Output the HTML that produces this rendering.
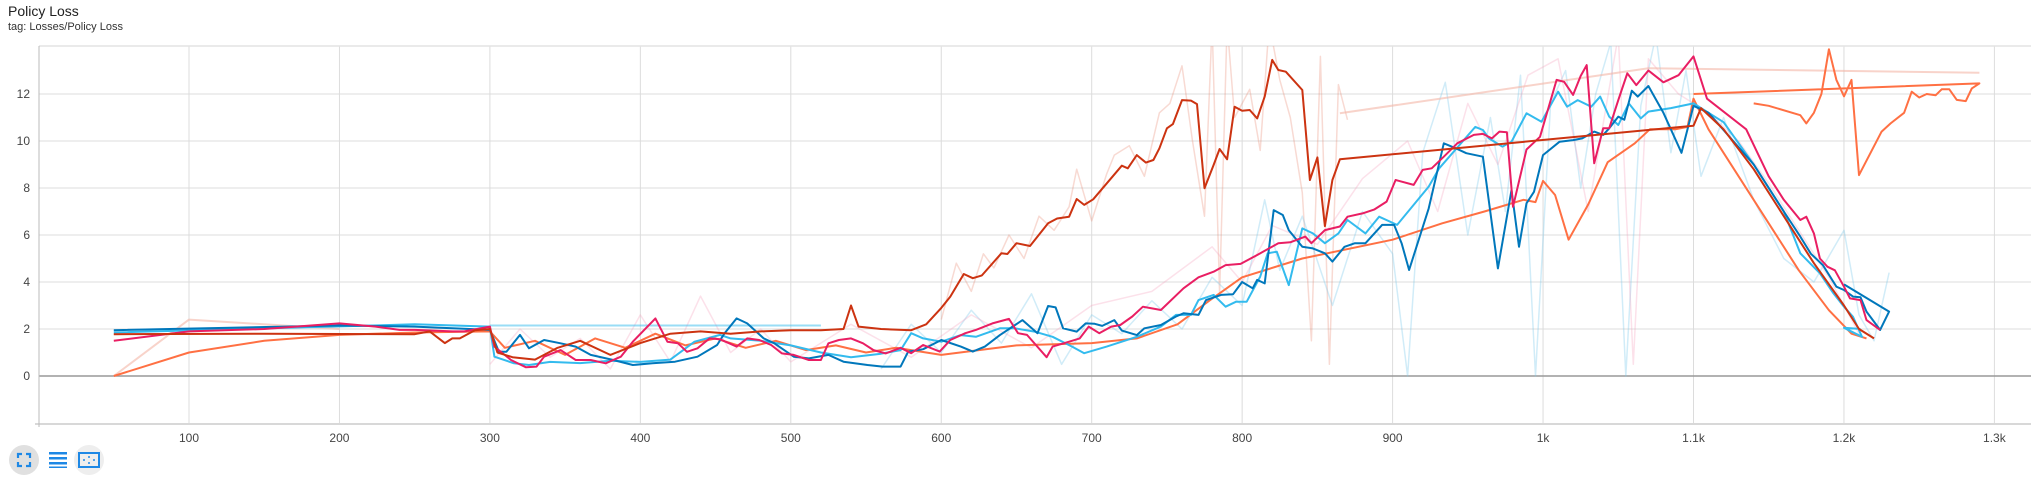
<!DOCTYPE html>
<html><head><meta charset="utf-8">
<style>
html,body{margin:0;padding:0;background:#fff;}
body{width:2031px;height:486px;overflow:hidden;position:relative;font-family:"Liberation Sans",sans-serif;}
#title{position:absolute;left:8px;top:3px;font-size:14px;color:#212121;}
#tag{position:absolute;left:8px;top:21px;font-size:11px;color:#333;}
svg{position:absolute;left:0;top:0;}
</style></head><body>
<div id="title">Policy Loss</div>
<div id="tag">tag: Losses/Policy Loss</div>
<svg id="chart" width="2031" height="486"></svg>
<script>
const xTicks=[100,200,300,400,500,600,700,800,900,1000,1100,1200,1300];
const xTickLabels=["100","200","300","400","500","600","700","800","900","1k","1.1k","1.2k","1.3k"];
const yTicks=[0,2,4,6,8,10,12];
const yTickLabels=["0","2","4","6","8","10","12"];
const seriesNames=["dark-red","orange","orange-late","pink","dark-blue","light-blue","salmon-faint","flat-connectors"];
const darkRedSteps=[50,150,250,260,270,275,280,290,300,305,315,330,345,360,380,400,420,440,460,480,500,520,535,540,545,560,580,590,600,606,615,621,627,640,644,650,659,671,677,685,690,695,701,720,724,730,736,741,745,750,754,760,766,770,775,781,785,790,795,800,805,810,815,820,824,829,840,845,850,855,860,865,1100,1105,1120,1140,1160,1180,1200,1210,1220];
const darkRedVals=[1.78,1.8,1.78,1.9,1.4,1.6,1.6,1.95,2.0,1.0,0.8,0.7,1.2,1.5,0.9,1.4,1.8,1.9,1.8,1.9,1.95,1.95,2.0,3.0,2.1,2.0,1.95,2.2,2.9,3.38,4.34,4.16,4.28,5.22,5.19,5.65,5.53,6.5,6.7,6.78,7.53,7.28,7.52,8.95,8.84,9.4,9.08,9.19,9.69,10.54,10.72,11.74,11.72,11.57,7.99,8.98,9.66,9.22,11.46,11.29,11.32,10.96,11.89,13.45,13.02,12.95,12.17,8.34,9.3,6.38,8.34,9.22,10.65,11.4,10.5,8.8,6.8,4.8,3.0,2.0,1.6];
const orangeSteps=[50,100,150,200,250,300,310,330,350,370,390,410,430,450,470,490,510,530,550,570,600,650,700,730,757,778,800,840,900,933,961,987,995,1000,1008,1017,1030,1043,1061,1071,1088,1096,1100,1110,1130,1150,1170,1190,1205,1215];
const orangeVals=[0,1.0,1.5,1.75,1.85,1.9,1.2,1.5,0.9,1.6,1.2,1.8,1.3,1.6,1.2,1.5,1.1,1.3,1.0,1.2,0.9,1.3,1.4,1.6,2.2,3.2,4.2,5.0,5.8,6.5,7.0,7.5,7.4,8.3,7.7,5.8,7.3,9.1,9.9,10.5,10.5,10.6,11.8,10.5,8.5,6.5,4.5,2.8,1.8,1.6];
const orangeLateSteps=[1100,1290,1285,1281,1275,1270,1265,1261,1255,1250,1245,1240,1231,1225,1210,1205,1200,1195,1190,1185,1180,1175,1171,1150,1140];
const orangeLateVals=[12.0,12.45,12.24,11.7,11.75,12.2,12.2,11.95,12.0,11.85,12.1,11.2,10.75,10.4,8.55,12.6,11.9,12.6,13.9,12.0,11.2,10.75,11.1,11.5,11.6];
const pinkSteps=[50,100,150,200,212,224,240,250,275,283,300,303,314,324,331,336,347,357,367,377,387,395,410,418,425,431,438,446,453,464,471,479,487,494,502,512,520,525,532,540,548,555,563,573,580,588,599,606,616,623,634,645,651,657,670,674,685,692,698,705,713,719,727,734,746,761,771,781,789,799,810,824,832,842,846,855,865,870,880,888,896,902,914,920,926,934,943,954,960,966,971,976,980,989,998,1009,1014,1020,1025,1029,1034,1040,1044,1050,1056,1062,1070,1080,1090,1100,1109,1135,1150,1160,1171,1175,1180,1184,1189,1194,1200,1204,1211,1215,1224];
const pinkVals=[1.5,1.9,2.0,2.24,2.17,2.1,1.96,1.96,1.9,1.9,2.1,1.25,0.68,0.37,0.4,0.82,1.1,0.68,0.68,0.54,0.82,1.46,2.45,1.46,1.39,1.03,1.18,1.6,1.56,1.25,1.6,1.53,1.32,0.96,0.9,0.68,0.68,1.39,1.53,1.6,1.39,1.1,0.96,1.2,0.97,1.32,1.04,1.53,1.82,1.96,2.24,2.43,1.82,1.75,0.8,1.25,1.46,1.6,2.1,1.82,2.1,2.17,2.53,2.95,2.81,3.73,4.2,4.44,4.72,4.77,5.15,5.65,5.69,5.93,5.65,6.21,6.36,6.78,6.92,7.09,7.42,8.34,8.13,8.77,8.84,9.33,9.9,10.26,10.3,10.11,10.4,10.37,7.2,9.64,10.18,12.6,12.52,11.96,12.77,13.23,9.05,10.54,10.54,11.74,12.88,12.38,13.0,12.5,12.8,13.6,11.8,10.5,8.5,7.5,6.64,6.78,6.07,5.0,4.65,4.5,3.8,3.3,3.23,2.38,1.96];
const darkBlueSteps=[50,200,250,300,306,311,320,326,336,347,357,367,382,395,408,423,438,451,456,464,471,482,489,502,512,525,535,551,561,573,578,588,600,613,621,629,639,654,664,671,676,681,690,696,702,707,715,720,730,735,746,756,761,771,776,786,794,800,807,810,815,821,827,831,840,847,855,860,868,875,882,893,901,906,911,924,934,942,949,960,970,979,984,989,994,1000,1011,1020,1026,1034,1040,1044,1050,1054,1059,1063,1070,1080,1092,1100,1110,1140,1160,1171,1178,1186,1195,1200,1206,1211,1215,1224,1230,1200];
const darkBlueVals=[1.95,2.15,2.1,1.96,1.03,1.03,1.75,1.18,1.53,1.39,1.25,0.9,0.68,0.47,0.54,0.61,0.82,1.32,1.82,2.45,2.24,1.6,1.39,0.82,0.75,0.9,0.61,0.47,0.4,0.4,1.04,1.14,1.53,1.25,1.04,1.25,1.74,2.38,1.82,2.98,2.92,2.03,1.89,2.24,2.22,2.13,2.38,1.93,1.74,2.03,2.17,2.53,2.67,2.6,3.23,3.45,3.48,4.0,3.73,4.09,3.94,7.06,6.85,6.2,5.5,5.43,5.22,4.87,5.5,5.65,5.65,6.43,6.43,5.65,4.51,7.13,9.9,9.69,9.48,9.33,4.58,7.91,5.5,7.35,7.84,9.4,9.97,10.04,10.11,10.4,10.26,10.54,11.04,10.9,12.14,11.89,12.34,11.2,9.5,11.5,11.2,9.0,7.0,5.93,5.2,4.72,3.8,3.66,3.38,3.35,2.74,1.96,2.74,3.9];
const lightBlueSteps=[50,250,300,303,316,326,340,360,380,400,420,436,453,460,480,500,520,540,560,573,580,588,600,613,623,639,649,662,674,687,695,710,720,730,746,756,766,771,781,789,796,803,812,817,823,831,840,847,855,864,870,882,891,903,924,931,955,960,964,973,979,989,999,1010,1016,1023,1032,1038,1044,1050,1057,1065,1070,1085,1100,1120,1140,1160,1171,1184,1193,1200,1206,1212,1200,1211];
const lightBlueVals=[1.85,2.2,2.1,0.82,0.54,0.47,0.6,0.55,0.65,0.6,0.7,1.46,1.75,1.6,1.5,1.3,1.0,0.8,0.95,1.1,1.82,1.6,1.46,1.74,1.67,2.03,2.03,1.89,1.67,1.25,0.97,1.25,1.46,1.67,2.1,2.6,2.6,3.23,3.45,2.95,3.16,3.16,4.23,5.22,5.29,3.87,6.28,6.07,5.65,6.07,6.64,6.07,6.78,6.43,8.06,8.84,10.6,10.47,10.11,9.76,9.97,11.18,10.82,12.1,11.46,11.74,11.46,11.89,11.04,10.68,11.6,10.96,11.25,11.4,11.6,10.8,9.0,7.0,5.22,4.37,3.52,2.95,2.52,1.67,2.05,2.0];
const salmonEarlySteps=[50,100,200];
const salmonEarlyVals=[0,2.4,2.0];
const salmonLateSteps=[865,1070,1290];
const salmonLateVals=[11.18,13.1,12.9];
const flatSteps=[300,520];
const flatVals=[2.15,2.15];
const redRawSteps=[600,610,620,628,635,645,655,665,675,685,690,700,710,715,725,735,745,752,760,767,775,780,785,790,795,805,812,818,825,832,840,846,852,858,864,870];
const redRawVals=[2.4,4.8,3.6,5.2,4.6,6.0,5.0,6.8,6.2,7.2,8.8,6.6,8.6,9.4,9.8,8.5,11.2,11.6,13.2,10.0,6.8,15,3.5,15,11.0,12.2,9.6,15,12.6,11.0,7.8,1.5,13.6,0.5,12.4,10.9];
const blueRawSteps=[560,580,600,620,640,660,680,700,720,740,760,780,800,815,825,840,860,880,900,910,920,935,950,965,975,985,995,1005,1015,1025,1035,1045,1055,1065,1075,1085,1095,1105,1120,1140,1160,1180,1200,1210,1220,1230];
const blueRawVals=[0.3,2.2,1.0,2.8,1.4,3.5,0.5,2.6,1.8,3.2,2.0,4.2,3.0,7.5,4.5,6.8,3.0,7.0,5.2,0.0,9.5,12.5,6.0,11.0,7.0,12.8,0.0,11.6,13.0,8.0,12.0,14.2,0.0,11.5,14.5,9.5,13.0,8.5,11.0,7.5,5.0,4.0,6.2,2.6,1.5,4.4];
const pinkRawSteps=[300,320,340,360,380,400,420,440,460,480,500,540,580,620,660,700,740,780,800,820,850,880,910,930,950,970,990,1010,1030,1050,1060,1070,1090,1110,1130,1150,1170,1190,1210];
const pinkRawVals=[0.5,2.0,0.8,1.6,0.3,2.6,0.6,3.4,1.0,2.0,0.6,2.2,0.8,2.6,1.2,3.0,3.6,5.5,4.0,6.4,5.6,8.4,10.0,7.0,11.6,9.0,12.8,13.5,7.0,14.5,0.5,13.5,12.0,11.2,10.0,8.2,6.2,4.2,1.8];

const NS="http://www.w3.org/2000/svg";
const svg=document.getElementById("chart");
const L=39,R=2031,T=46,B=424;
function xs(s){return 189+(s-100)*1.5045;}
function ys(v){return 376-v*23.5;}
function el(tag,attrs){const e=document.createElementNS(NS,tag);for(const k in attrs)e.setAttribute(k,attrs[k]);svg.appendChild(e);return e;}

const defs=document.createElementNS(NS,"defs");
const cp=document.createElementNS(NS,"clipPath");cp.setAttribute("id","clip");
const cr=document.createElementNS(NS,"rect");cr.setAttribute("x",L);cr.setAttribute("y",T);cr.setAttribute("width",R-L);cr.setAttribute("height",B-T);
cp.appendChild(cr);defs.appendChild(cp);svg.appendChild(defs);

for(let i=0;i<xTicks.length;i++){
  const x=xs(xTicks[i]);
  const g=el("line",{x1:x,x2:x,y1:T,y2:B,stroke:"#dcdcdc","stroke-width":1});
  
  
  const t=el("text",{x:x,y:442,"text-anchor":"middle","font-size":12,fill:"#444","font-family":"Liberation Sans, sans-serif"});
  t.textContent=xTickLabels[i];
  
  
}
for(let i=0;i<yTicks.length;i++){
  const y=ys(yTicks[i]);
  const g=el("line",{x1:L,x2:R,y1:y,y2:y,stroke:yTicks[i]===0?"#999":"#dcdcdc","stroke-width":yTicks[i]===0?1.5:1});
  
  
  const t=el("text",{x:30,y:y+4,"text-anchor":"end","font-size":12,fill:"#444","font-family":"Liberation Sans, sans-serif"});
  t.textContent=yTickLabels[i];
  
  
}
const topLine=el("line",{x1:L,x2:R,y1:T,y2:T,stroke:"#e3e3e3","stroke-width":1.5});


const xAxis=el("line",{x1:L-4,x2:R,y1:B,y2:B,stroke:"#d8d8d8","stroke-width":2});


const yAxis=el("line",{x1:L,x2:L,y1:T,y2:B+3,stroke:"#bbb","stroke-width":1});



const gLines=el("g",{"clip-path":"url(#clip)",fill:"none","stroke-linejoin":"round"});


function draw(steps,vals,color,width,op,name){
  const pts=steps.map((s,i)=>xs(s).toFixed(1)+","+ys(vals[i]).toFixed(1)).join(" ");
  const p=document.createElementNS(NS,"polyline");
  p.setAttribute("points",pts);p.setAttribute("stroke",color);p.setAttribute("stroke-width",width);p.setAttribute("opacity",op);
  
  
  gLines.appendChild(p);
}
draw(redRawSteps,redRawVals,"#e8866c",1.5,0.3,"dark-red-raw-line");
draw(blueRawSteps,blueRawVals,"#7cc8ec",1.5,0.35,"blue-raw-line");
draw(pinkRawSteps,pinkRawVals,"#f59ab8",1.5,0.3,"pink-raw-line");
draw(salmonEarlySteps,salmonEarlyVals,"#f4b6a6",2,0.6,"salmon-faint-early-line");
draw(salmonLateSteps,salmonLateVals,"#f4b6a6",2,0.6,"salmon-faint-late-line");
draw(darkRedSteps,darkRedVals,"#e8866c",1.5,0.25,"dark-red-raw-shadow");
draw(flatSteps,flatVals,"#33bbee",2,0.5,"flat-connector-line");
draw(orangeSteps,orangeVals,"#ff7043",2,1,"orange-line");
draw(orangeLateSteps,orangeLateVals,"#ff7043",2,1,"orange-late-line");
draw(lightBlueSteps,lightBlueVals,"#33bbee",2,1,"light-blue-line");
draw(darkBlueSteps,darkBlueVals,"#0077bb",2,1,"dark-blue-line");
draw(pinkSteps,pinkVals,"#e91e63",2,1,"pink-line");
draw(darkRedSteps,darkRedVals,"#cc3311",2,1,"dark-red-line");
</script>
<svg width="120" height="32" style="left:8px;top:445px">
  <g>
    <circle cx="16" cy="15" r="15" fill="#e0e0e0"/>
    <path d="M10 13V9h4M18 9h4v4M22 17v4h-4M14 21h-4v-4" stroke="#1e88e5" stroke-width="2.2" fill="none"/>
  </g>
  <g>
    <rect x="41" y="7" width="18" height="2.5" fill="#1e88e5"/>
    <rect x="41" y="12" width="18" height="2.5" fill="#1e88e5"/>
    <rect x="41" y="17" width="18" height="2.5" fill="#1e88e5"/>
    <rect x="41" y="21.5" width="18" height="1.5" fill="#1e88e5"/>
  </g>
  <g>
    <circle cx="81" cy="15" r="15" fill="#eeeeee"/>
    <rect x="71" y="8" width="20" height="14" fill="none" stroke="#1e88e5" stroke-width="2"/>
    <path d="M81 11v2M81 17v2M75 15h2M85 15h2" stroke="#1e88e5" stroke-width="1.5"/>
  </g>
</svg>
</body></html>
